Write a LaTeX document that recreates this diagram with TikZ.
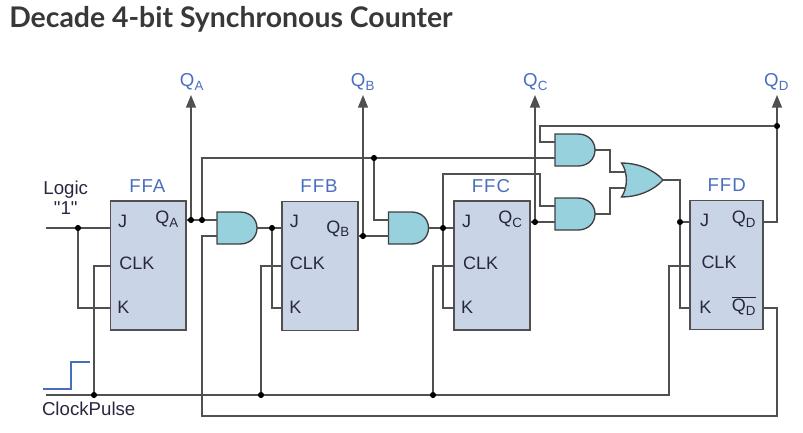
\documentclass[tikz,border=0pt]{standalone}
\usepackage{fontspec}
\setmainfont{Liberation Sans}
\newfontfamily\titlefont{Lato}
\newfontfamily\sidefont{Liberation Sans}
\usetikzlibrary{arrows.meta}
\definecolor{labelblue}{HTML}{4A6EBE}
\definecolor{wiregrey}{HTML}{505050}
\definecolor{pintext}{HTML}{2A2640}
\definecolor{ffblue}{HTML}{C9D5E6}
\definecolor{gatecyan}{HTML}{97D1DD}
\newcommand{\Qs}[1]{Q\raisebox{-0.35ex}{\fontsize{10}{12}\selectfont #1}}
\tikzset{
  wire/.style={draw=wiregrey,line width=1.05pt},
  outwire/.style={wire,-{Triangle[length=9.5pt,width=7.5pt]}},
  ffbox/.style={draw=wiregrey,line width=1.1pt,fill=ffblue,inner sep=0pt,outer sep=0pt,minimum width=#1*0.75pt,minimum height=129*0.75pt},
  gatebody/.style={draw=black!75,line width=1pt,fill=gatecyan},
  gatebox/.style={inner sep=0pt,outer sep=0pt,minimum width=30pt,minimum height=24pt},
  junction/.style={circle,fill=black,inner sep=0pt,minimum size=4.6pt},
  pinlabel/.style={text=pintext,font=\fontsize{13.5}{15}\selectfont},
  sidelabel/.style={text=pintext,font=\sidefont\fontsize{14}{16}\selectfont},
  fflabel/.style={text=labelblue,font=\fontsize{14}{16}\selectfont\addfontfeatures{LetterSpace=5}}
}
% and gate, with coordinates <name>in1, <name>in2 and <name>out
\newcommand{\andgate}[2]{
  \node[gatebox] (#1) at (#2) {};
  \begin{scope}[shift={(#1.center)}]
    \path[gatebody] (-20,-16) -- (3,-16) .. controls (13,-16) and (20,-9) .. (20,0) .. controls (20,9) and (13,16) .. (3,16) -- (-20,16) -- cycle;
    \coordinate (#1in1) at (-20,-8);
    \coordinate (#1in2) at (-20,8);
    \coordinate (#1out) at (20,0);
  \end{scope}
}
\begin{document}
\begin{tikzpicture}[x=0.75pt,y=0.75pt,yscale=-1,xscale=1]
\useasboundingbox (0,0) rectangle (803,432);

% Title
\node[anchor=base west,inner sep=0pt,text=black!78,font=\titlefont\bfseries\fontsize{21.3}{24}\selectfont] (title) at (9,27) {Decade 4-bit Synchronous Counter};

% Flip flops
\node[ffbox=75.5] (FFA) at (148.25,265.5) {};
\node[ffbox=76] (FFB) at (320,266) {};
\node[ffbox=76] (FFC) at (492,265.5) {};
\node[ffbox=73] (FFD) at (726.5,265) {};

% Gates
\andgate{andA}{237,228}
\andgate{andB}{408.5,228}
\andgate{andC}{575,150}
\andgate{andD}{575,214}
\node[gatebox] (orD) at (642,180) {};
\begin{scope}[shift={(orD.center)}]
  \path[gatebody] (-20.5,-17) .. controls (-6,-17) and (10,-12) .. (21,0) .. controls (10,12) and (-6,17) .. (-20.5,17) .. controls (-14,8) and (-14,-8) .. cycle;
  \coordinate (orDin1) at (-16,-8);
  \coordinate (orDin2) at (-16,8);
  \coordinate (orDout) at (21,0);
\end{scope}

% Junctions
\node[junction] (dotJA) at (78,228) {};
\node[junction] (dotClkA) at (94,395) {};
\node[junction] (dotQA) at (191,220) {};
\node[junction] (dotTop) at (202,220) {};
\node[junction] (dotJB) at (272,228) {};
\node[junction] (dotClkB) at (261,395) {};
\node[junction] (dotQB) at (363,236) {};
\node[junction] (dotBar) at (374,158) {};
\node[junction] (dotJC) at (443,228) {};
\node[junction] (dotClkC) at (433,395) {};
\node[junction] (dotQC) at (535,222) {};
\node[junction] (dotJD) at (680,222) {};
\node[junction] (dotQD) at (777,126) {};

% Free ends and bends
\coordinate (inJ) at (46,228);
\coordinate (inClk) at (46,395);
\coordinate (tipA) at (191,95);
\coordinate (tipB) at (363,95);
\coordinate (tipC) at (535,95);
\coordinate (tipD) at (777,95);
\coordinate (pinClkA) at (110.5,266);
\coordinate (pinKA) at (110.5,308);
\coordinate (pinClkB) at (282,266);
\coordinate (pinKB) at (282,308);
\coordinate (pinClkC) at (454,266);
\coordinate (pinKC) at (454,308);
\coordinate (pinClkD) at (690,266);
\coordinate (pinKD) at (690,308);
\coordinate (pinBarD) at (763,308);
\coordinate (bendClk) at (669,266);
\coordinate (bendBotL) at (202,416);
\coordinate (bendBotR) at (777,416);
\coordinate (bendC) at (540,174);
\coordinate (bendFb) at (540,126);
\coordinate (bendOrA) at (610,172);
\coordinate (bendOrB) at (610,188);

% FFA wiring
\draw[wire] (inJ) -- (dotJA) -- (FFA.west |- dotJA);
\draw[wire] (dotJA) |- (pinKA);
\draw[wire] (dotClkA) |- (pinClkA);
\draw[outwire] (dotQA) -- (tipA);
\draw[wire] (FFA.east |- dotQA) -- (dotQA) -- (dotTop) -- (andAin1);
\draw[wire] (andAin2) -| (bendBotL) -- (bendBotR) |- (pinBarD);
\draw[wire] (dotTop) |- (dotBar) -- (andCin2);
% FFB wiring
\draw[wire] (andAout) -- (dotJB) -- (FFB.west |- dotJB);
\draw[wire] (dotJB) |- (pinKB);
\draw[wire] (dotClkB) |- (pinClkB);
\draw[outwire] (dotQB) -- (tipB);
\draw[wire] (FFB.east |- dotQB) -- (dotQB) -- (andBin2);
\draw[wire] (dotBar) |- (andBin1);
% FFC wiring
\draw[wire] (andBout) -- (dotJC) -- (FFC.west |- dotJC);
\draw[wire] (dotJC) |- (pinKC);
\draw[wire] (dotJC) |- (bendC) |- (andDin1);
\draw[wire] (dotClkC) |- (pinClkC);
\draw[outwire] (dotQC) -- (tipC);
\draw[wire] (FFC.east |- dotQC) -- (dotQC) -- (andDin2);
% FFD wiring
\draw[wire] (andCout) -| (bendOrA) -- (orDin1);
\draw[wire] (andDout) -| (bendOrB) -- (orDin2);
\draw[wire] (orDout) -| (dotJD);
\draw[wire] (dotJD) -- (FFD.west |- dotJD);
\draw[wire] (dotJD) |- (pinKD);
\draw[wire] (FFD.east |- dotJD) -| (dotQD);
\draw[outwire] (dotQD) -- (tipD);
\draw[wire] (dotQD) -- (bendFb) |- (andCin1);
% Clock line
\draw[wire] (inClk) -- (dotClkA) -- (dotClkB) -- (dotClkC) -| (bendClk) -- (pinClkD);
% Clock step
\draw[draw=labelblue,line width=1pt] (43,389) -- (71,389) -- (71,362) -- (90,362);

% Text Node
\node[sidelabel,align=center,inner sep=0pt] (logicText) at (65.7,198) {Logic\\[-1pt]"1"};
\node[sidelabel,inner sep=0pt] (clockText) at (88.7,409.3) {ClockPulse};
% Text Node
\node[fflabel] (nameA) at (147.3,186) {FFA};
\node[fflabel] (nameB) at (319,186) {FFB};
\node[fflabel] (nameC) at (491,186) {FFC};
\node[fflabel] (nameD) at (726.7,184.7) {FFD};
% Text Node
\node[fflabel] (outA) at (191.7,82) {\Qs{A}};
\node[fflabel] (outB) at (362.7,82) {\Qs{B}};
\node[fflabel] (outC) at (535.3,82) {\Qs{C}};
\node[fflabel] (outD) at (776.3,82) {\Qs{D}};
% Text Node
\node[pinlabel] (jA) at (122.7,221) {J};
\node[pinlabel] (clkA) at (137,263.7) {CLK};
\node[pinlabel] (kA) at (123.3,307.3) {K};
\node[pinlabel] (qA) at (166.7,219.3) {\Qs{A}};
\node[pinlabel] (jB) at (294.3,221.7) {J};
\node[pinlabel] (clkB) at (307.3,263.7) {CLK};
\node[pinlabel] (kB) at (295.3,307.7) {K};
\node[pinlabel] (qB) at (337.7,228.7) {\Qs{B}};
\node[pinlabel] (jC) at (466.7,221.7) {J};
\node[pinlabel] (clkC) at (480.7,263.7) {CLK};
\node[pinlabel] (kC) at (467,307.3) {K};
\node[pinlabel] (qC) at (510.3,219.3) {\Qs{C}};
\node[pinlabel] (jD) at (704.7,220.7) {J};
\node[pinlabel] (clkD) at (719,262.3) {CLK};
\node[pinlabel] (kD) at (705.3,307) {K};
\node[pinlabel] (qD) at (743.7,219.3) {\Qs{D}};
\node[pinlabel] (qbarD) at (743.7,306) {$\overline{\mbox{\Qs{D}}}$};

\end{tikzpicture}
\end{document}
